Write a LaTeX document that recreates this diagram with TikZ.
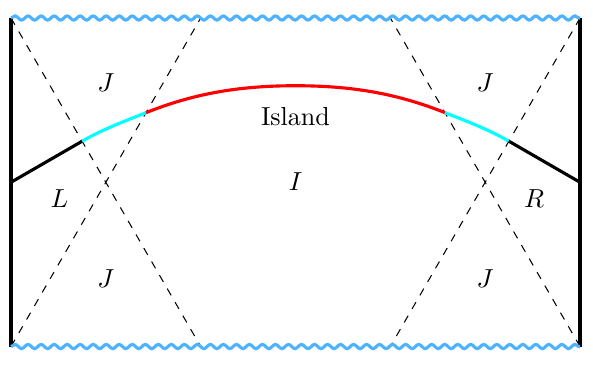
\documentclass[tikz,border=0pt]{standalone}
\usepackage{amsmath}
\usepackage{tikz}
\usetikzlibrary{decorations.pathmorphing}
\usepackage{xcolor}
\definecolor{singblue}{RGB}{77,178,255}
\definecolor{qescyan}{RGB}{0,255,255}
\tikzset{
  wall/.style={very thick, black},
  sing/.style={singblue, line width=1.2pt, decorate,
    decoration={snake, amplitude=0.8pt, segment length=5pt}},
  hor/.style={thin, dashed},
  isl/.style={very thick, red},
  qes/.style={very thick, qescyan},
}

\begin{document}
\begin{tikzpicture}[x=1.28cm,y=1.28cm]
  \useasboundingbox (-0.116,-0.221) rectangle (6.137,3.654);
  % --- corners ---
  \coordinate (BL) at (0,0);
  \coordinate (TL) at (0,3.464);
  \coordinate (BR) at (6,0);
  \coordinate (TR) at (6,3.464);
  \coordinate (TLh) at (2,3.464);
  \coordinate (BLh) at (2,0);
  \coordinate (TRh) at (4,3.464);
  \coordinate (BRh) at (4,0);

  % --- horizons ---
  \draw[hor] (TL) -- (BLh);
  \draw[hor] (BL) -- (TLh);
  \draw[hor] (TR) -- (BRh);
  \draw[hor] (BR) -- (TRh);

  % --- slice ---
  \coordinate (Lw) at (0,1.732);
  \coordinate (Lq) at (0.75,2.165);
  \coordinate (Li) at (1.424,2.466);
  \coordinate (M) at (3,2.75);
  \coordinate (Ri) at (4.576,2.466);
  \coordinate (Rq) at (5.25,2.165);
  \coordinate (Rw) at (6,1.732);
  \draw[wall] (Lw) -- (Lq);
  \draw[qes] (Lq) .. controls (0.975,2.295) and (1.199,2.376) .. (Li);
  \draw[isl] (Li) .. controls (1.924,2.666) and (2.4,2.75) .. (M)
    .. controls (3.6,2.75) and (4.076,2.666) .. (Ri);
  \draw[qes] (Ri) .. controls (4.801,2.376) and (5.025,2.295) .. (Rq);
  \draw[wall] (Rq) -- (Rw);

  % --- boundaries ---
  \draw[wall] (BL) -- (TL);
  \draw[wall] (BR) -- (TR);
  \draw[sing] (TL) -- (TR);
  \draw[sing] (BL) -- (BR);

  % --- labels ---
  \node (Jtl) at (1,2.78) {$J$};
  \node (Jtr) at (5,2.78) {$J$};
  \node (Jbl) at (1,0.72) {$J$};
  \node (Jbr) at (5,0.72) {$J$};
  \node (L) at (0.51,1.565) {$L$};
  \node (R) at (5.515,1.565) {$R$};
  \node (isl) at (3,2.425) {Island};
  \node (I) at (3,1.74) {$I$};
\end{tikzpicture}
\end{document}
